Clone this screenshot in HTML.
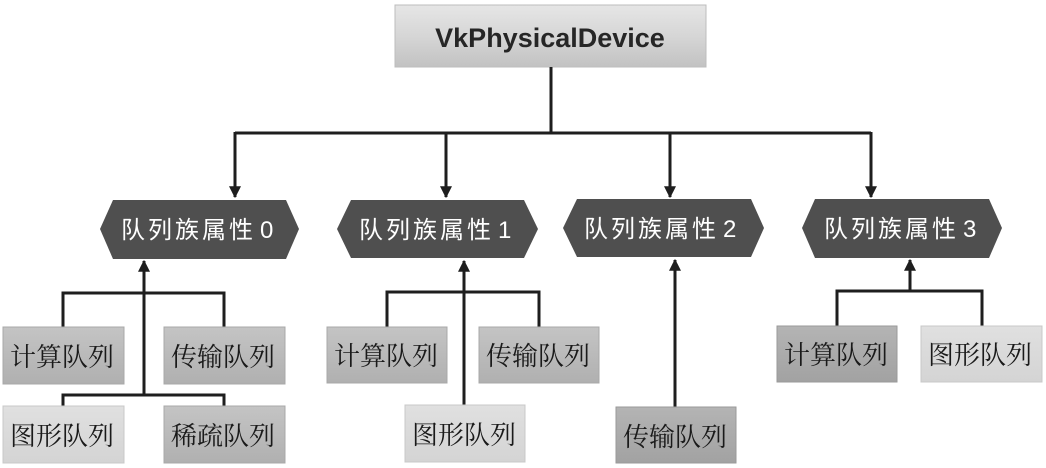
<!DOCTYPE html>
<html>
<head>
<meta charset="utf-8">
<style>
html,body{margin:0;padding:0;background:#fff;}
svg{display:block;}
.hx{font-family:"Liberation Sans","Noto Sans CJK SC",sans-serif;font-size:24px;fill:#fff;letter-spacing:3px;}
.bx{font-family:"Noto Serif CJK SC","Liberation Serif",serif;font-size:26px;fill:#1a1a1a;letter-spacing:0px;}
</style>
</head>
<body>
<svg width="1046" height="468" viewBox="0 0 1046 468" xmlns="http://www.w3.org/2000/svg">
<defs>
<linearGradient id="gtop" x1="0" y1="0" x2="0" y2="1">
<stop offset="0" stop-color="#e6e6e6"/>
<stop offset="0.5" stop-color="#d6d6d6"/>
<stop offset="1" stop-color="#c2c2c2"/>
</linearGradient>
<linearGradient id="gmid" x1="0" y1="0" x2="0" y2="1">
<stop offset="0" stop-color="#c4c4c4"/>
<stop offset="1" stop-color="#b0b0b0"/>
</linearGradient>
<linearGradient id="gdark" x1="0" y1="0" x2="0" y2="1">
<stop offset="0" stop-color="#b4b4b4"/>
<stop offset="1" stop-color="#a2a2a2"/>
</linearGradient>
<linearGradient id="glight" x1="0" y1="0" x2="0" y2="1">
<stop offset="0" stop-color="#e0e0e0"/>
<stop offset="1" stop-color="#d4d4d4"/>
</linearGradient>
<marker id="ar" viewBox="0 0 10 10" refX="9" refY="5" markerWidth="4" markerHeight="4" orient="auto">
<path d="M0,0 L10,5 L0,10 z" fill="#1e1e1e"/>
</marker>
</defs>

<!-- top box -->
<rect x="395" y="5" width="311" height="62" fill="url(#gtop)" stroke="#bdbdbd" stroke-width="1"/>
<text x="550" y="47" text-anchor="middle" font-family="'Liberation Sans',sans-serif" font-weight="bold" font-size="27" fill="#262626">VkPhysicalDevice</text>

<!-- top connectors -->
<g stroke="#1e1e1e" stroke-width="3" fill="none">
<path d="M551,67 V133"/>
<path d="M235,133 H871"/>
<path d="M235,132 V197" marker-end="url(#ar)"/>
<path d="M446,132 V197" marker-end="url(#ar)"/>
<path d="M670,132 V197" marker-end="url(#ar)"/>
<path d="M871,132 V197" marker-end="url(#ar)"/>
</g>

<!-- hexagons -->
<g fill="#4f4f4f">
<polygon points="100,229 113,200 286,200 299,229 286,259 113,259"/>
<polygon points="337,229 351,200 524,200 538,229 524,258 351,258"/>
<polygon points="563,228 577,199 751,199 764,228 751,257 577,257"/>
<polygon points="802,228 815,199 989,199 1002,228 989,258 815,258"/>
</g>
<text class="hx" x="121" y="238">队列族属性<tspan dx="4">0</tspan></text>
<text class="hx" x="359" y="238">队列族属性<tspan dx="4">1</tspan></text>
<text class="hx" x="584" y="237">队列族属性<tspan dx="4">2</tspan></text>
<text class="hx" x="824" y="237">队列族属性<tspan dx="4">3</tspan></text>

<!-- group connectors -->
<g stroke="#1e1e1e" stroke-width="3" fill="none">
<path d="M144,395 V261" marker-end="url(#ar)"/>
<path d="M63,327 V293 H224 V327"/>
<path d="M63,406 V395 H224 V406"/>
<path d="M464,405 V261" marker-end="url(#ar)"/>
<path d="M387,327 V292 H539 V327"/>
<path d="M675,407 V260" marker-end="url(#ar)"/>
<path d="M910,291 V260" marker-end="url(#ar)"/>
<path d="M837,326 V291 H982 V326"/>
</g>

<!-- boxes group 0 -->
<rect x="3" y="327" width="121" height="57" fill="url(#gmid)" stroke="#a8a8a8"/>
<text class="bx" x="10" y="366">计算队列</text>
<rect x="164" y="327" width="121" height="57" fill="url(#gmid)" stroke="#a8a8a8"/>
<text class="bx" x="171" y="366">传输队列</text>
<rect x="3" y="406" width="121" height="57" fill="url(#glight)" stroke="#c8c8c8"/>
<text class="bx" x="10" y="445">图形队列</text>
<rect x="164" y="406" width="121" height="57" fill="url(#gmid)" stroke="#a8a8a8"/>
<text class="bx" x="171" y="445">稀疏队列</text>

<!-- boxes group 1 -->
<rect x="327" y="327" width="120" height="56" fill="url(#gmid)" stroke="#a8a8a8"/>
<text class="bx" x="334" y="365">计算队列</text>
<rect x="479" y="327" width="120" height="56" fill="url(#gmid)" stroke="#a8a8a8"/>
<text class="bx" x="486" y="365">传输队列</text>
<rect x="405" y="405" width="120" height="57" fill="url(#glight)" stroke="#c8c8c8"/>
<text class="bx" x="412" y="444">图形队列</text>

<!-- group 2 -->
<rect x="616" y="407" width="120" height="56" fill="url(#gdark)" stroke="#9a9a9a"/>
<text class="bx" x="623" y="446">传输队列</text>

<!-- group 3 -->
<rect x="777" y="326" width="120" height="56" fill="url(#gdark)" stroke="#9a9a9a"/>
<text class="bx" x="784" y="364">计算队列</text>
<rect x="921" y="326" width="121" height="56" fill="url(#glight)" stroke="#c8c8c8"/>
<text class="bx" x="928" y="364">图形队列</text>
</svg>
</body>
</html>
